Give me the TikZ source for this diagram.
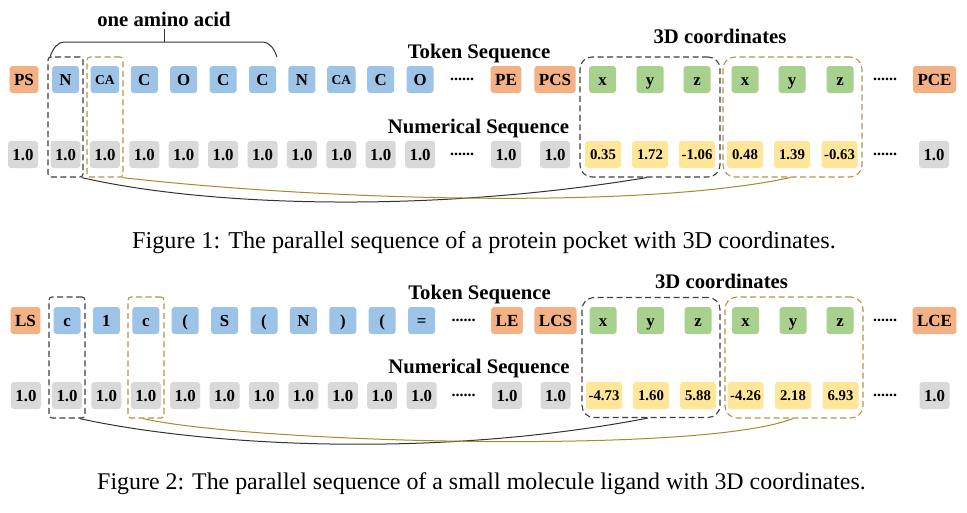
\documentclass[tikz,border=0pt]{standalone}
\usepackage{fontspec}
\setmainfont{Liberation Serif}
\definecolor{orangebox}{HTML}{F4B183}
\definecolor{bluebox}{HTML}{9DC3E6}
\definecolor{greenbox}{HTML}{A9D18E}
\definecolor{graybox}{HTML}{D9D9D9}
\definecolor{yellowbox}{HTML}{FFE699}
\definecolor{darkdash}{HTML}{404040}
\definecolor{golddash}{HTML}{B4964B}
\definecolor{goldline}{HTML}{A8892F}
\definecolor{darkline}{HTML}{333333}
\tikzset{
 cell/.style={rounded corners=3pt, minimum width=27pt, minimum height=27pt, inner xsep=4.5pt, inner ysep=0pt,
   text height=11.2pt, text depth=0pt, font=\bfseries\fontsize{16.8}{16.8}\selectfont, text=black},
 tok/.style={cell, fill=bluebox},
 toksm/.style={cell, fill=bluebox, text height=9pt, font=\bfseries\fontsize{13.5}{13.5}\selectfont},
 spec/.style={cell, fill=orangebox, font=\bfseries\fontsize{17}{17}\selectfont},
 coordbox/.style={cell, fill=greenbox},
 numbox/.style={cell, fill=graybox},
 valbox/.style={cell, fill=yellowbox, minimum width=36pt, inner xsep=2pt, text height=10pt, font=\bfseries\fontsize{14.8}{14.8}\selectfont},
 dotsnode/.style={font=\bfseries\fontsize{16}{16}\selectfont, inner sep=0pt},
 headtext/.style={font=\bfseries\fontsize{20.7}{20.7}\selectfont, anchor=base, inner sep=0pt},
 capt/.style={font=\fontsize{24.2}{24.2}\selectfont, anchor=base, inner sep=0pt},
 capttwo/.style={capt, font=\fontsize{23.9}{23.9}\selectfont},
 dbox/.style={draw=darkdash, dash pattern=on 6pt off 3.5pt, line width=1.1pt, rounded corners=3pt, inner sep=0pt},
 gbox/.style={dbox, draw=golddash},
 blink/.style={line width=1pt, draw=darkline},
 glink/.style={line width=1pt, draw=goldline},
}
\begin{document}
\begin{tikzpicture}[x=1pt, y=-1pt]
\fill[white] (0,0) rectangle (967,512);
\useasboundingbox (0,0) rectangle (967,512);

% ---------- Figure 1 ----------
\node[headtext] (amino) at (164,26) {one amino acid};
\node[headtext] (ts1) at (479,58) {Token Sequence};
\node[headtext] (ns1) at (478.5,133) {Numerical Sequence};
\node[headtext] (cd1) at (720,43) {3D coordinates};

\coordinate (bl) at (50,57);
\coordinate (br) at (277,57);
\coordinate (bm) at (164,42);
\coordinate (bt) at (164,29);
\draw[line width=1pt, darkline] (bl) to[out=70,in=180] (65,42) -- (262,42) to[out=0,in=110] (br);
\draw[line width=1pt, darkline] (bm) -- (bt);

\node[spec] (p0) at (24,79.5) {PS};
\node[tok]   (p1)  at (65.5,79.5)  {N};
\node[toksm] (p2)  at (104.9,79.5) {CA};
\node[tok]   (p3)  at (144.3,79.5) {C};
\node[tok]   (p4)  at (183.7,79.5) {O};
\node[tok]   (p5)  at (223.1,79.5) {C};
\node[tok]   (p6)  at (262.5,79.5) {C};
\node[tok]   (p7)  at (301.9,79.5) {N};
\node[toksm] (p8)  at (341.3,79.5) {CA};
\node[tok]   (p9)  at (380.7,79.5) {C};
\node[tok]   (p10) at (420.1,79.5) {O};
\node[dotsnode] (pd1) at (462,79.5) {......};
\node[spec] (pe) at (506,79.5) {PE};
\node[spec] (pcs) at (555,79.5) {PCS};
\node[coordbox] (pc1) at (602.5,79.5) {x};
\node[coordbox] (pc2) at (650,79.5) {y};
\node[coordbox] (pc3) at (697,79.5) {z};
\node[coordbox] (pc4) at (745,79.5) {x};
\node[coordbox] (pc5) at (792,79.5) {y};
\node[coordbox] (pc6) at (840,79.5) {z};
\node[dotsnode] (pd2) at (885,79.5) {......};
\node[spec] (pce) at (934.5,79.5) {PCE};

\node[numbox] (n0) at (23,154.5) {1.0};
\node[numbox] (n1)  at (65.5,154.5)  {1.0};
\node[numbox] (n2)  at (104.9,154.5) {1.0};
\node[numbox] (n3)  at (144.3,154.5) {1.0};
\node[numbox] (n4)  at (183.7,154.5) {1.0};
\node[numbox] (n5)  at (223.1,154.5) {1.0};
\node[numbox] (n6)  at (262.5,154.5) {1.0};
\node[numbox] (n7)  at (301.9,154.5) {1.0};
\node[numbox] (n8)  at (341.3,154.5) {1.0};
\node[numbox] (n9)  at (380.7,154.5) {1.0};
\node[numbox] (n10) at (420.1,154.5) {1.0};
\node[dotsnode] (nd1) at (462,154.5) {......};
\node[numbox] (ne) at (506,154.5) {1.0};
\node[numbox] (ncs) at (555,154.5) {1.0};
\node[valbox] (nv1) at (603,154.5) {0.35};
\node[valbox] (nv2) at (650,154.5) {1.72};
\node[valbox] (nv3) at (697,154.5) {-1.06};
\node[valbox] (nv4) at (745,154.5) {0.48};
\node[valbox] (nv5) at (792,154.5) {1.39};
\node[valbox] (nv6) at (839.5,154.5) {-0.63};
\node[dotsnode] (nd2) at (885,154.5) {......};
\node[numbox] (nce) at (934,154.5) {1.0};

\node[dbox, minimum width=35pt, minimum height=120pt] (k1) at (65.5,117) {};
\node[gbox, minimum width=36pt, minimum height=120pt] (g1) at (105,117) {};
\node[dbox, rounded corners=12pt, minimum width=140pt, minimum height=120pt] (K1) at (650,117) {};
\node[gbox, rounded corners=12pt, minimum width=139pt, minimum height=120pt] (G1) at (792.5,117) {};

\draw[blink] ([xshift=-2pt]k1.south east) .. controls (200,205) and (420,215) .. ([xshift=-3pt]K1.south);
\draw[glink] ([xshift=-2pt]g1.south east) .. controls (320,200) and (640,210) .. ([xshift=-2pt]G1.south);

\node[capt] (cap1) at (484,248) {Figure 1: The parallel sequence of a protein pocket with 3D coordinates.};

% ---------- Figure 2 ----------
\node[headtext] (ts2) at (479.5,299.5) {Token Sequence};
\node[headtext] (ns2) at (479,373.5) {Numerical Sequence};
\node[headtext] (cd2) at (721.5,288) {3D coordinates};

\node[spec] (q0) at (25.5,320.5) {LS};
\node[tok] (q1)  at (67,320.5)    {c};
\node[tok] (q2)  at (106.4,320.5) {1};
\node[tok] (q3)  at (145.8,320.5) {c};
\node[tok] (q4)  at (185.2,320.5) {(};
\node[tok] (q5)  at (224.6,320.5) {S};
\node[tok] (q6)  at (264,320.5)   {(};
\node[tok] (q7)  at (303.4,320.5) {N};
\node[tok] (q8)  at (342.8,320.5) {)};
\node[tok] (q9)  at (382.2,320.5) {(};
\node[tok] (q10) at (421.6,320.5) {=};
\node[dotsnode] (qd1) at (463.5,320.5) {......};
\node[spec] (qe) at (507,320.5) {LE};
\node[spec] (qcs) at (555.5,320.5) {LCS};
\node[coordbox] (qc1) at (603,320.5) {x};
\node[coordbox] (qc2) at (650.5,320.5) {y};
\node[coordbox] (qc3) at (698,320.5) {z};
\node[coordbox] (qc4) at (745.5,320.5) {x};
\node[coordbox] (qc5) at (793,320.5) {y};
\node[coordbox] (qc6) at (840,320.5) {z};
\node[dotsnode] (qd2) at (885,320.5) {......};
\node[spec] (qce) at (934.5,320.5) {LCE};

\node[numbox] (m0) at (26,395.5) {1.0};
\node[numbox] (m1)  at (67,395.5)    {1.0};
\node[numbox] (m2)  at (106.4,395.5) {1.0};
\node[numbox] (m3)  at (145.8,395.5) {1.0};
\node[numbox] (m4)  at (185.2,395.5) {1.0};
\node[numbox] (m5)  at (224.6,395.5) {1.0};
\node[numbox] (m6)  at (264,395.5)   {1.0};
\node[numbox] (m7)  at (303.4,395.5) {1.0};
\node[numbox] (m8)  at (342.8,395.5) {1.0};
\node[numbox] (m9)  at (382.2,395.5) {1.0};
\node[numbox] (m10) at (421.6,395.5) {1.0};
\node[dotsnode] (md1) at (463.5,395.5) {......};
\node[numbox] (me) at (507,395.5) {1.0};
\node[numbox] (mcs) at (555.5,395.5) {1.0};
\node[valbox] (mv1) at (604,395.5) {-4.73};
\node[valbox] (mv2) at (651,395.5) {1.60};
\node[valbox] (mv3) at (698,395.5) {5.88};
\node[valbox] (mv4) at (745.5,395.5) {-4.26};
\node[valbox] (mv5) at (793,395.5) {2.18};
\node[valbox] (mv6) at (840.5,395.5) {6.93};
\node[dotsnode] (md2) at (885,395.5) {......};
\node[numbox] (mce) at (934.5,395.5) {1.0};

\node[dbox, minimum width=36pt, minimum height=121pt] (k2) at (67,357.5) {};
\node[gbox, minimum width=36pt, minimum height=121pt] (g2) at (146,357.5) {};
\node[dbox, rounded corners=12pt, minimum width=138pt, minimum height=120pt] (K2) at (651,357.5) {};
\node[gbox, rounded corners=12pt, minimum width=138pt, minimum height=121pt] (G2) at (794,357.5) {};

\draw[blink] ([xshift=-6pt]k2.south east) .. controls (200,445) and (430,460) .. ([xshift=-3pt]K2.south);
\draw[glink] ([xshift=-3pt]g2.south) .. controls (250,443) and (700,455) .. ([xshift=-1pt]G2.south);

\node[capttwo] (cap2) at (481.5,489) {Figure 2: The parallel sequence of a small molecule ligand with 3D coordinates.};
\end{tikzpicture}
\end{document}
